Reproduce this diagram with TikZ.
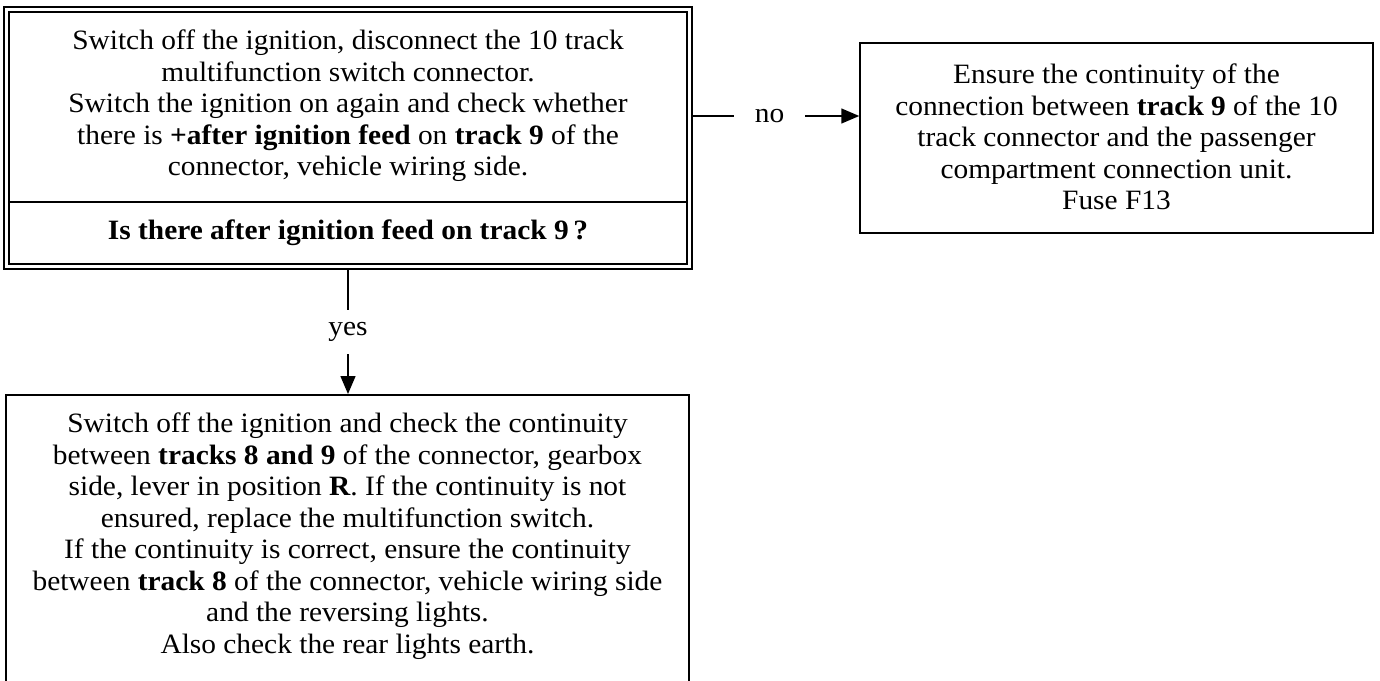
\documentclass[tikz,border=0pt]{standalone}
\usepackage{fontspec}
\setmainfont{Liberation Serif}[FakeStretch=1.05]
\usepackage{tikz}
\usetikzlibrary{arrows.meta,positioning,fit}

\begin{document}
\begin{tikzpicture}[
  x=1pt,y=-1pt,
  frame/.style={draw,line width=1.5pt,inner sep=0pt},
  txt/.style={align=center,inner sep=0pt,font=\fontsize{28}{31.5}\selectfont},
  arr/.style={-{Triangle[length=18pt,width=15pt]},line width=1.5pt},
  lab/.style={fill=white,inner sep=0pt,font=\fontsize{28}{31.5}\selectfont}
]
\useasboundingbox (0,0) rectangle (1380,680);
\clip (0,0) rectangle (1380,680);
% first check, with the question under it, framed twice
\node[frame,minimum width=678pt,minimum height=190pt] (chk) at (348,107) {};
\node[frame,minimum width=678pt,minimum height=62pt] (ask) at (348,233)
  {\fontsize{28}{31.5}\selectfont\bfseries Is there after ignition feed on track 9\,?};
\node[frame,fit=(chk)(ask),inner sep=4.5pt,line width=2pt] (top) {};
\node[txt,anchor=north] (chktxt) at (348,30) {Switch off the ignition, disconnect the 10 track\\
  multifunction switch connector.\\
  Switch the ignition on again and check whether\\
  there is \textbf{+after ignition feed} on \textbf{track 9} of the\\
  connector, vehicle wiring side.};
% no branch
\node[frame,minimum width=513pt,minimum height=190pt] (fix) at (1116.5,138) {};
\node[txt,anchor=north] (fixtxt) at (1116.5,64) {Ensure the continuity of the\\
  connection between \textbf{track 9} of the 10\\
  track connector and the passenger\\
  compartment connection unit.\\
  Fuse F13};
% yes branch
\node[frame,minimum width=683pt,minimum height=300pt,anchor=north] (next) at (347.5,394) {};
\node[txt,anchor=north] (nexttxt) at (347.5,413) {Switch off the ignition and check the continuity\\
  between \textbf{tracks 8 and 9} of the connector, gearbox\\
  side, lever in position \textbf{R}. If the continuity is not\\
  ensured, replace the multifunction switch.\\
  If the continuity is correct, ensure the continuity\\
  between \textbf{track 8} of the connector, vehicle wiring side\\
  and the reversing lights.\\
  Also check the rear lights earth.};
\coordinate (nolevel) at (700,116);
\draw[arr] (top.east |- nolevel) -- node[lab,pos=0.46,minimum width=71pt] (no) {no} (fix.west |- nolevel);
\draw[arr] (top.south) -- node[lab,minimum height=44pt] (yes) {yes} (top.south |- next.north);
\end{tikzpicture}
\end{document}
